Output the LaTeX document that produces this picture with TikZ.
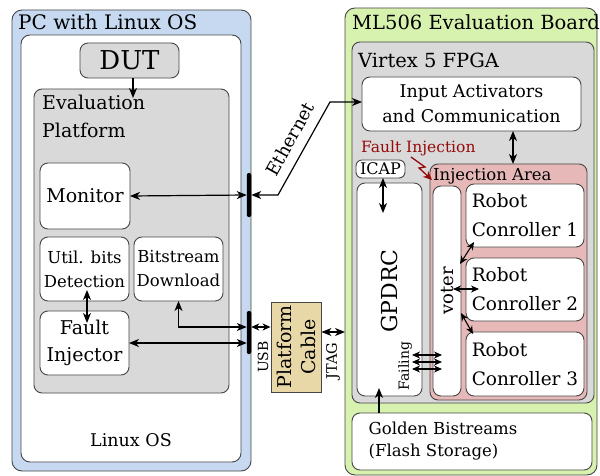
\documentclass[tikz,border=0pt]{standalone}
\usepackage{fontspec}
\setmainfont{DejaVu Serif}
\usetikzlibrary{arrows.meta}

\definecolor{pcblue}{RGB}{198,217,241}
\definecolor{boardgreen}{RGB}{215,241,175}
\definecolor{fpgagray}{RGB}{217,217,217}
\definecolor{injpink}{RGB}{230,185,184}
\definecolor{cabletan}{RGB}{232,216,168}
\definecolor{faultred}{RGB}{150,10,10}
\definecolor{edgegray}{RGB}{70,70,70}

\newcommand{\fsz}[2]{\fontsize{#1}{#2}\selectfont}

\tikzset{
  panel/.style={draw=edgegray, line width=0.9pt, rounded corners=8pt,
                inner sep=0pt, outer sep=0pt},
  whitebox/.style={panel, fill=white},
  graybox/.style={panel, fill=fpgagray},
  bar/.style={fill=black, draw=none, inner sep=0pt, outer sep=0pt,
              minimum width=4.5, rounded corners=2pt},
  title/.style={anchor=base west, inner sep=0pt},
  label/.style={inner sep=0pt},
  tipbig/.tip={Stealth[length=10pt,width=8pt,inset=3pt]},
  tipsmall/.tip={Stealth[length=8pt,width=7pt,inset=2.5pt]},
  arr/.style={line width=1.2pt, -tipbig},
  darr/.style={line width=1.2pt, tipbig-tipbig},
  sdarr/.style={line width=1.1pt, tipsmall-tipsmall},
}

\begin{document}
\begin{tikzpicture}[x=1pt,y=-1pt]
\useasboundingbox (0,0) rectangle (600,476);

% ---------------- PC side ----------------
\node[panel, fill=pcblue, rounded corners=10pt, minimum width=239, minimum height=461] (pc) at (131.5,240.5) {};
\node[title, font=\fsz{20}{24}] (pctitle) at (18,30) {PC with Linux OS};
\node[whitebox, rounded corners=9pt, minimum width=220, minimum height=427] (linux) at (131,248.5) {};
\node[label, font=\fsz{17.5}{21}] (linuxlbl) at (131,440) {Linux OS};

\node[graybox, minimum width=99, minimum height=35, font=\fsz{26}{30}] (dut) at (129.5,60.5) {DUT};

\node[graybox, minimum width=195, minimum height=304] (evalp) at (131.5,241) {};
\node[anchor=north west, inner sep=0pt, align=left, font=\fsz{19}{28}] (evaltitle) at (42,95) {Evaluation\\Platform};

\node[whitebox, minimum width=90, minimum height=66, font=\fsz{19}{24}] (monitor) at (85,196) {Monitor};
\node[whitebox, minimum width=89, minimum height=64, align=center, font=\fsz{16.5}{24}] (util) at (84.5,269) {Util. bits\\Detection};
\node[whitebox, minimum width=89, minimum height=64, align=center, font=\fsz{16.5}{24}] (bitdl) at (178.5,269) {Bitstream\\Download};
\node[whitebox, minimum width=89, minimum height=64, align=center, font=\fsz{19}{27}] (finj) at (84.5,343) {Fault\\Injector};

\node[bar, minimum height=44] (barA) at (249,195) {};
\node[bar, minimum height=43] (barB) at (249,332.5) {};

% ---------------- cable ----------------
\node[draw=edgegray, line width=0.9pt, fill=cabletan, inner sep=0pt, minimum width=50, minimum height=90] (cable) at (296,347) {};
\node[label, rotate=90, align=center, font=\fsz{19}{24}] (cablelbl) at (296,347) {Platform\\Cable};
\node[label, rotate=90, font=\fsz{14}{16}] (usblbl) at (263,357) {USB};
\node[label, rotate=90, font=\fsz{14.5}{16}] (jtaglbl) at (333,361) {JTAG};

% ---------------- board side ----------------
\node[panel, fill=boardgreen, rounded corners=10pt, minimum width=252, minimum height=467] (board) at (471,241.5) {};
\node[title, font=\fsz{19.5}{24}] (boardtitle) at (352,30) {ML506 Evaluation Board};

\node[graybox, minimum width=242, minimum height=361] (fpga) at (473,222.5) {};
\node[title, font=\fsz{19.5}{24}] (fpgatitle) at (358,68) {Virtex 5 FPGA};

\node[whitebox, minimum width=219, minimum height=54, align=center, font=\fsz{17.5}{25}] (inputac) at (471.5,104) {Input Activators\\and Communication};

\node[title, text=faultred, font=\fsz{15.5}{18}] (faulttitle) at (361,153) {Fault Injection};

\node[whitebox, rounded corners=6pt, minimum width=49, minimum height=18, font=\fsz{16}{18}] (icap) at (380.5,169) {ICAP};
\node[whitebox, minimum width=65, minimum height=213] (gpdrc) at (389.5,289.5) {};
\node[label, rotate=90, font=\fsz{22}{26}] (gpdrclbl) at (389,291) {GPDRC};
\node[label, rotate=90, font=\fsz{14}{16}] (failinglbl) at (405,366) {Failing};

\node[panel, fill=injpink, minimum width=157, minimum height=236] (injarea) at (508.5,282) {};
\node[title, font=\fsz{16.5}{20}] (injtitle) at (433,180) {Injection Area};

\node[whitebox, minimum width=28, minimum height=210] (voter) at (447,291) {};
\node[label, rotate=90, font=\fsz{18}{20}] (voterlbl) at (448,291) {voter};

\node[whitebox, minimum width=118, minimum height=63, align=left, font=\fsz{18.5}{29}] (rc1) at (525,215.5) {Robot\\Conroller 1};
\node[whitebox, minimum width=118, minimum height=63, align=left, font=\fsz{18.5}{29}] (rc2) at (525,289.5) {Robot\\Conroller 2};
\node[whitebox, minimum width=118, minimum height=64, align=left, font=\fsz{18.5}{29}] (rc3) at (525,364) {Robot\\Conroller 3};

\node[whitebox, minimum width=240, minimum height=57] (golden) at (472,441.5) {};
\node[label, align=left, font=\fsz{16.5}{22}] (goldenlbl) at (443,441) {Golden Bistreams\\(Flash Storage)};

% ---------------- connectors ----------------
\coordinate (dutin) at (133,98);
\draw[arr] (dut.south -| dutin) -- (dutin);

\draw[darr] (monitor.east) -- (barA.west);

\coordinate (utilpt) at (87,290);
\coordinate (finjpt) at (87,323);
\draw[darr] (utilpt) -- (finjpt);

\coordinate (bdk) at (178.5,327);
\draw[darr] (bitdl.south) -- (bdk) -- (bdk -| barB.west);
\draw[darr] (finj.east) -- (finj.east -| barB.west);

% Ethernet link
\coordinate (ethA) at (278,195);
\coordinate (ethB) at (330,102);
\draw[darr] (barA.east) -- (ethA) -- (ethB) -- (inputac.west |- ethB);
\node[label, rotate=61, font=\fsz{18}{20}] (ethlbl) at (290,139) {Ethernet};

% USB and JTAG links
\draw[sdarr] (barB.east |- bdk) -- (cable.west |- bdk);
\draw[darr] (cable.east |- 0,332) -- (board.west |- 0,332);

% inside the FPGA
\draw[darr] (inputac.south -| 513,0) -- (injarea.north -| 513,0);
\coordinate (icapin) at (383,213);
\draw[darr] (icap.south -| icapin) -- (icapin);

\coordinate (goldin) at (379,388);
\draw[arr] (golden.north -| goldin) -- (goldin);

\foreach \yy/\nm in {355/fa,362/fb,369/fc} {
  \coordinate (\nm l) at (412,\yy);
  \coordinate (\nm r) at (442,\yy);
  \draw[sdarr] (\nm l) -- (\nm r);
}

\coordinate (v1) at (460,264);
\coordinate (r1) at (474,242);
\draw[sdarr] (v1) -- (r1);
\coordinate (v2) at (453,289);
\coordinate (r2) at (479,289);
\draw[sdarr] (v2) -- (r2);
\coordinate (v3) at (461,313);
\coordinate (r3) at (473,334);
\draw[sdarr] (v3) -- (r3);

% fault injection bolt
\coordinate (boltA) at (411,157);
\coordinate (boltB) at (425,167);
\coordinate (boltC) at (419,168);
\coordinate (boltD) at (432,180);
\draw[faultred, line width=1.3pt, -{Stealth[length=9pt,width=8pt]}] (boltA) -- (boltB) -- (boltC) -- (boltD);
\end{tikzpicture}
\end{document}
